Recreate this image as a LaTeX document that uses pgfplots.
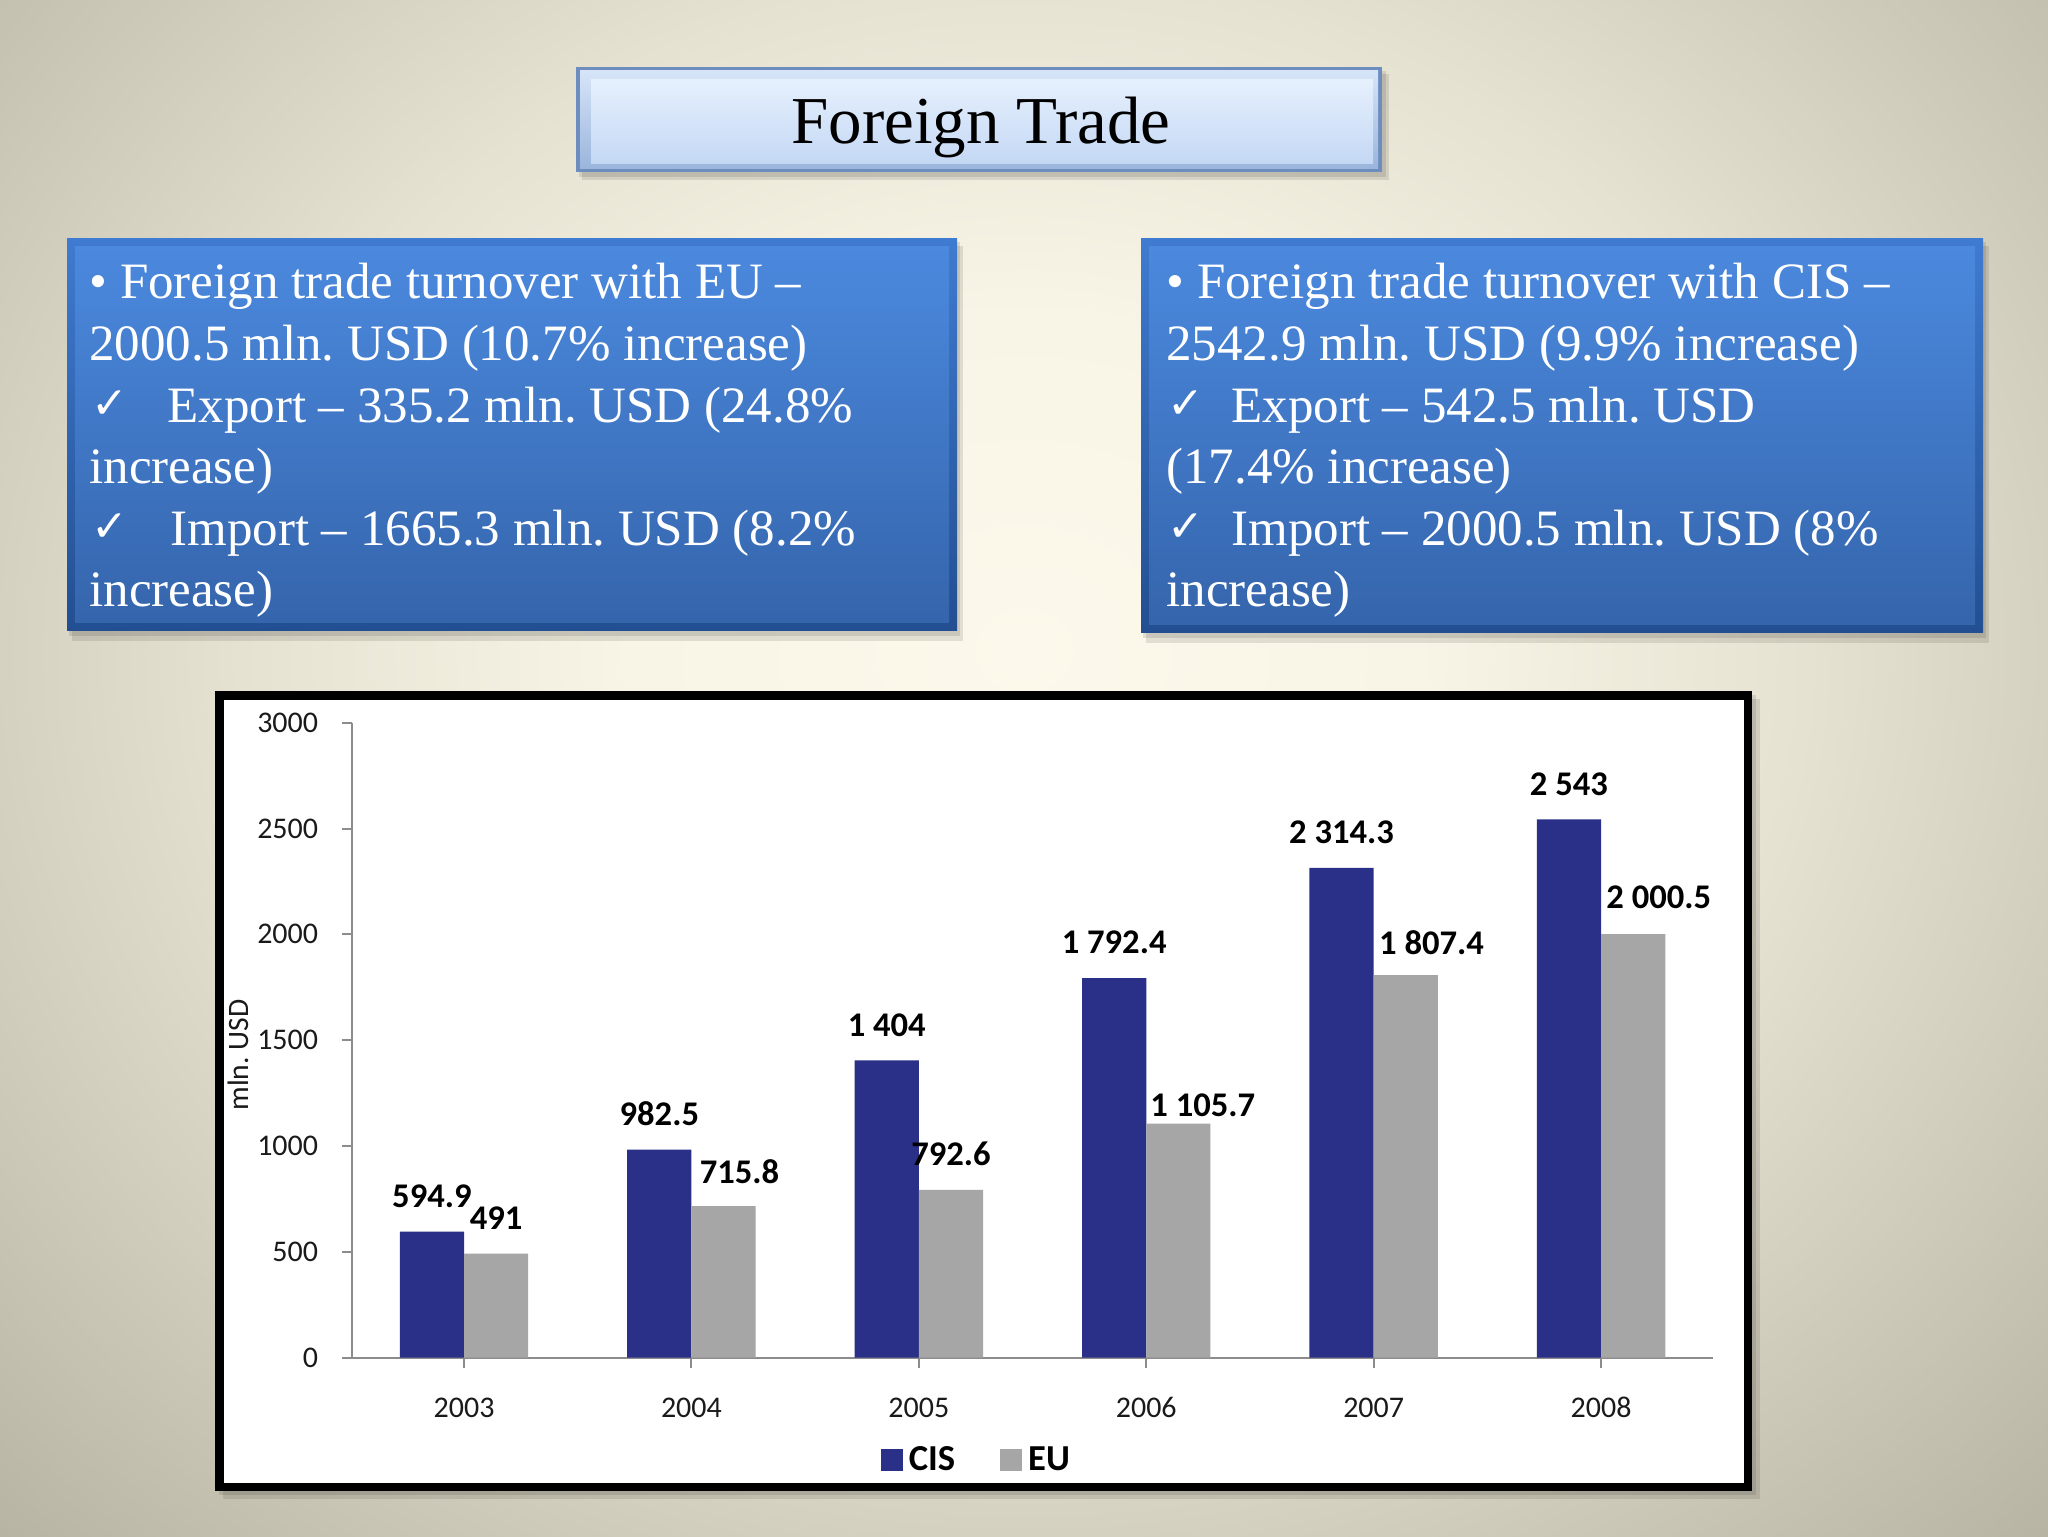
\documentclass[border=0pt]{standalone}
\usepackage{fontspec}
\setmainfont{Liberation Serif}
\newfontfamily\calibri{Carlito}
\newfontfamily\symfont{DejaVu Sans}
\usepackage{pgfplots}
\pgfplotsset{compat=1.18}
\usepackage{pgfplotstable}
\frenchspacing

\definecolor{cis}{HTML}{2A3087}
\definecolor{eu}{HTML}{A6A6A6}
\definecolor{axisgray}{HTML}{8C8C8C}
\definecolor{ticktext}{HTML}{1A1A1A}
\definecolor{bg0}{HTML}{FCF9EC}
\definecolor{bg1}{HTML}{F8F5E6}
\definecolor{bg2}{HTML}{E6E2D2}
\definecolor{bg3}{HTML}{CFCBBB}
\definecolor{bg4}{HTML}{BCB8A8}
\definecolor{bg5}{HTML}{A6A392}
\definecolor{bg6}{HTML}{918E7C}
\definecolor{bg7}{HTML}{7A776A}
\definecolor{boxOutT}{HTML}{3F7BD0}
\definecolor{boxOutB}{HTML}{234F92}
\definecolor{boxFaceT}{HTML}{4B89DE}
\definecolor{boxFaceB}{HTML}{3565AC}
\definecolor{tOut}{HTML}{6E8DBF}
\definecolor{tBevT}{HTML}{D6E4F8}
\definecolor{tBevB}{HTML}{9BB5DC}
\definecolor{tFaceT}{HTML}{E6F0FD}
\definecolor{tFaceB}{HTML}{C4D8F4}

\pgfdeclareradialshading{bgshade}{\pgfpoint{0bp}{0bp}}{color(0bp)=(bg0); color(7bp)=(bg1); color(14bp)=(bg2); color(20bp)=(bg3); color(25bp)=(bg4); color(30bp)=(bg5); color(36bp)=(bg6); color(44bp)=(bg7); color(50bp)=(bg7)}

\pgfplotstableread[col sep=comma]{
x,y,dx,dy,label
0,594.9,-16.05,12.2,594.9
1,982.5,-16.05,12.2,982.5
2,1404,-16.05,12.2,1 404
3,1792.4,-16.05,12.2,1 792.4
4,2314.3,-16.05,12.2,2 314.3
5,2543,-16.05,12.2,2 543
}\cisdata

\pgfplotstableread[col sep=comma]{
x,y,dx,dy,label
0,491,16.05,12.2,491
1,715.8,24.05,11.2,715.8
2,792.6,16.05,12.2,792.6
3,1105.7,28.25,3.7,1 105.7
4,1807.4,28.95,10.3,1 807.4
5,2000.5,28.85,12.7,2 000.5
}\eudata

\begin{document}
\begin{tikzpicture}
\begin{scope}[x=0.5pt,y=-0.5pt]
\useasboundingbox (0,0) rectangle (2048,1536);
\begin{scope}
\clip (0,0) rectangle (2048,1536);
\shade[shading=bgshade] (-376,-550) rectangle (2424,1850);
\end{scope}
% title box
\fill[black,opacity=0.10] (579,71) rectangle (1386,177);
\fill[black,opacity=0.10] (582,74) rectangle (1389,180);
\fill[tOut] (576,67) rectangle (1382,172);
\shade[top color=tBevT, bottom color=tBevB] (580,71) rectangle (1378,168);
\shade[top color=tFaceT, bottom color=tFaceB] (591,80) rectangle (1373,163);
\node[font=\fontsize{33.5}{40}\selectfont, anchor=base, inner sep=0pt] at (981,143) {Foreign Trade};
% left box
\fill[black,opacity=0.10] (69,242) rectangle (960,636);
\fill[black,opacity=0.10] (72,246) rectangle (963,641);
\shade[top color=boxOutT, bottom color=boxOutB] (67,238) rectangle (957,630);
\shade[top color=boxFaceT, bottom color=boxFaceB] (75,246) rectangle (949,622);
% right box
\fill[black,opacity=0.10] (1143,242) rectangle (1986,638);
\fill[black,opacity=0.10] (1146,246) rectangle (1989,643);
\shade[top color=boxOutT, bottom color=boxOutB] (1141,238) rectangle (1983,632);
\shade[top color=boxFaceT, bottom color=boxFaceB] (1149,246) rectangle (1975,624);
\begin{scope}[every node/.style={anchor=base west, inner sep=0pt, text=white, font=\fontsize{25.5}{30}\selectfont}]
\node at (89,298) {• Foreign trade turnover with EU –};
\node at (89,360) {2000.5 mln. USD (10.7\% increase)};
\node[font=\symfont\fontsize{22}{26}\selectfont] at (91,418) {✓};
\node at (167,422) {Export – 335.2 mln. USD (24.8\%};
\node at (89,483) {increase)};
\node[font=\symfont\fontsize{22}{26}\selectfont] at (91,541) {✓};
\node at (170,545) {Import – 1665.3 mln. USD (8.2\%};
\node at (89,606) {increase)};
\node at (1166,298) {• Foreign trade turnover with CIS –};
\node at (1166,360) {2542.9 mln. USD (9.9\% increase)};
\node[font=\symfont\fontsize{22}{26}\selectfont] at (1167,418) {✓};
\node at (1231,422) {Export – 542.5 mln. USD};
\node at (1166,483) {(17.4\% increase)};
\node[font=\symfont\fontsize{22}{26}\selectfont] at (1167,541) {✓};
\node at (1231,545) {Import – 2000.5 mln. USD (8\%};
\node at (1166,606) {increase)};
\end{scope}
% chart frame
\fill[black,opacity=0.10] (219,695) rectangle (1756,1495);
\fill[black,opacity=0.10] (223,699) rectangle (1760,1499);
\fill[white] (215,691) rectangle (1752,1491);
\draw[black, line width=4.25pt] (219.25,695.25) rectangle (1747.75,1486.75);
\end{scope}

\begin{axis}[
  at={(175.85pt,-678.75pt)}, anchor=south west,
  scale only axis, width=680.5pt, height=317.4pt,
  xmin=-0.494, xmax=5.491, ymin=0, ymax=3000,
  clip=false,
  axis lines=left,
  axis line style={-, draw=axisgray, line width=1pt},
  tick align=outside, major tick length=5pt,
  tick style={draw=axisgray, line width=1pt},
  xtick={0,1,2,3,4,5},
  xticklabels={2003,2004,2005,2006,2007,2008},
  ytick={0,500,1000,1500,2000,2500,3000},
  /pgf/number format/assume math mode=true,
  /pgf/number format/1000 sep={},
  ticklabel style={font=\calibri\fontsize{15}{16}\selectfont, text=ticktext},
  xticklabel style={anchor=base, yshift=-25.2pt},
  yticklabel style={anchor=east, inner sep=0pt, xshift=-11.6pt},
  ylabel={mln. USD},
  ylabel style={at={(axis description cs:-0.0835,0.4765)}, anchor=center, font=\calibri\fontsize{14.8}{16}\selectfont, text=ticktext},
  legend style={at={(axis description cs:0.4597,-0.162)}, anchor=center, draw=none, fill=none, inner sep=0pt,
     legend columns=2, font=\calibri\bfseries\fontsize{18.3}{19}\selectfont,
     /tikz/every odd column/.append style={column sep=1pt},
     /tikz/every even column/.append style={column sep=20.5pt}},
  legend cell align=left,
]
\addplot[ybar, bar width=32.1pt, bar shift=-16.05pt, fill=cis, draw=none,
  nodes near coords, point meta=explicit symbolic,
  visualization depends on={\thisrow{dx} \as \dx},
  visualization depends on={\thisrow{dy} \as \dy},
  every node near coord/.append style={anchor=base, inner sep=0pt, xshift=\dx pt, yshift=\dy pt, font=\calibri\bfseries\fontsize{17.3}{18}\selectfont, text=black},
  legend image code/.code={\fill[cis] (0pt,-5.5pt) rectangle (11pt,5.5pt);}]
  table[x=x, y=y, meta=label] {\cisdata};
\addlegendentry{CIS}
\addplot[ybar, bar width=32.1pt, bar shift=16.05pt, fill=eu, draw=none,
  nodes near coords, point meta=explicit symbolic,
  visualization depends on={\thisrow{dx} \as \dx},
  visualization depends on={\thisrow{dy} \as \dy},
  every node near coord/.append style={anchor=base, inner sep=0pt, xshift=\dx pt, yshift=\dy pt, font=\calibri\bfseries\fontsize{17.3}{18}\selectfont, text=black},
  legend image code/.code={\fill[eu] (0pt,-5.5pt) rectangle (11pt,5.5pt);}]
  table[x=x, y=y, meta=label] {\eudata};
\addlegendentry{EU}
\end{axis}
\end{tikzpicture}
\end{document}
